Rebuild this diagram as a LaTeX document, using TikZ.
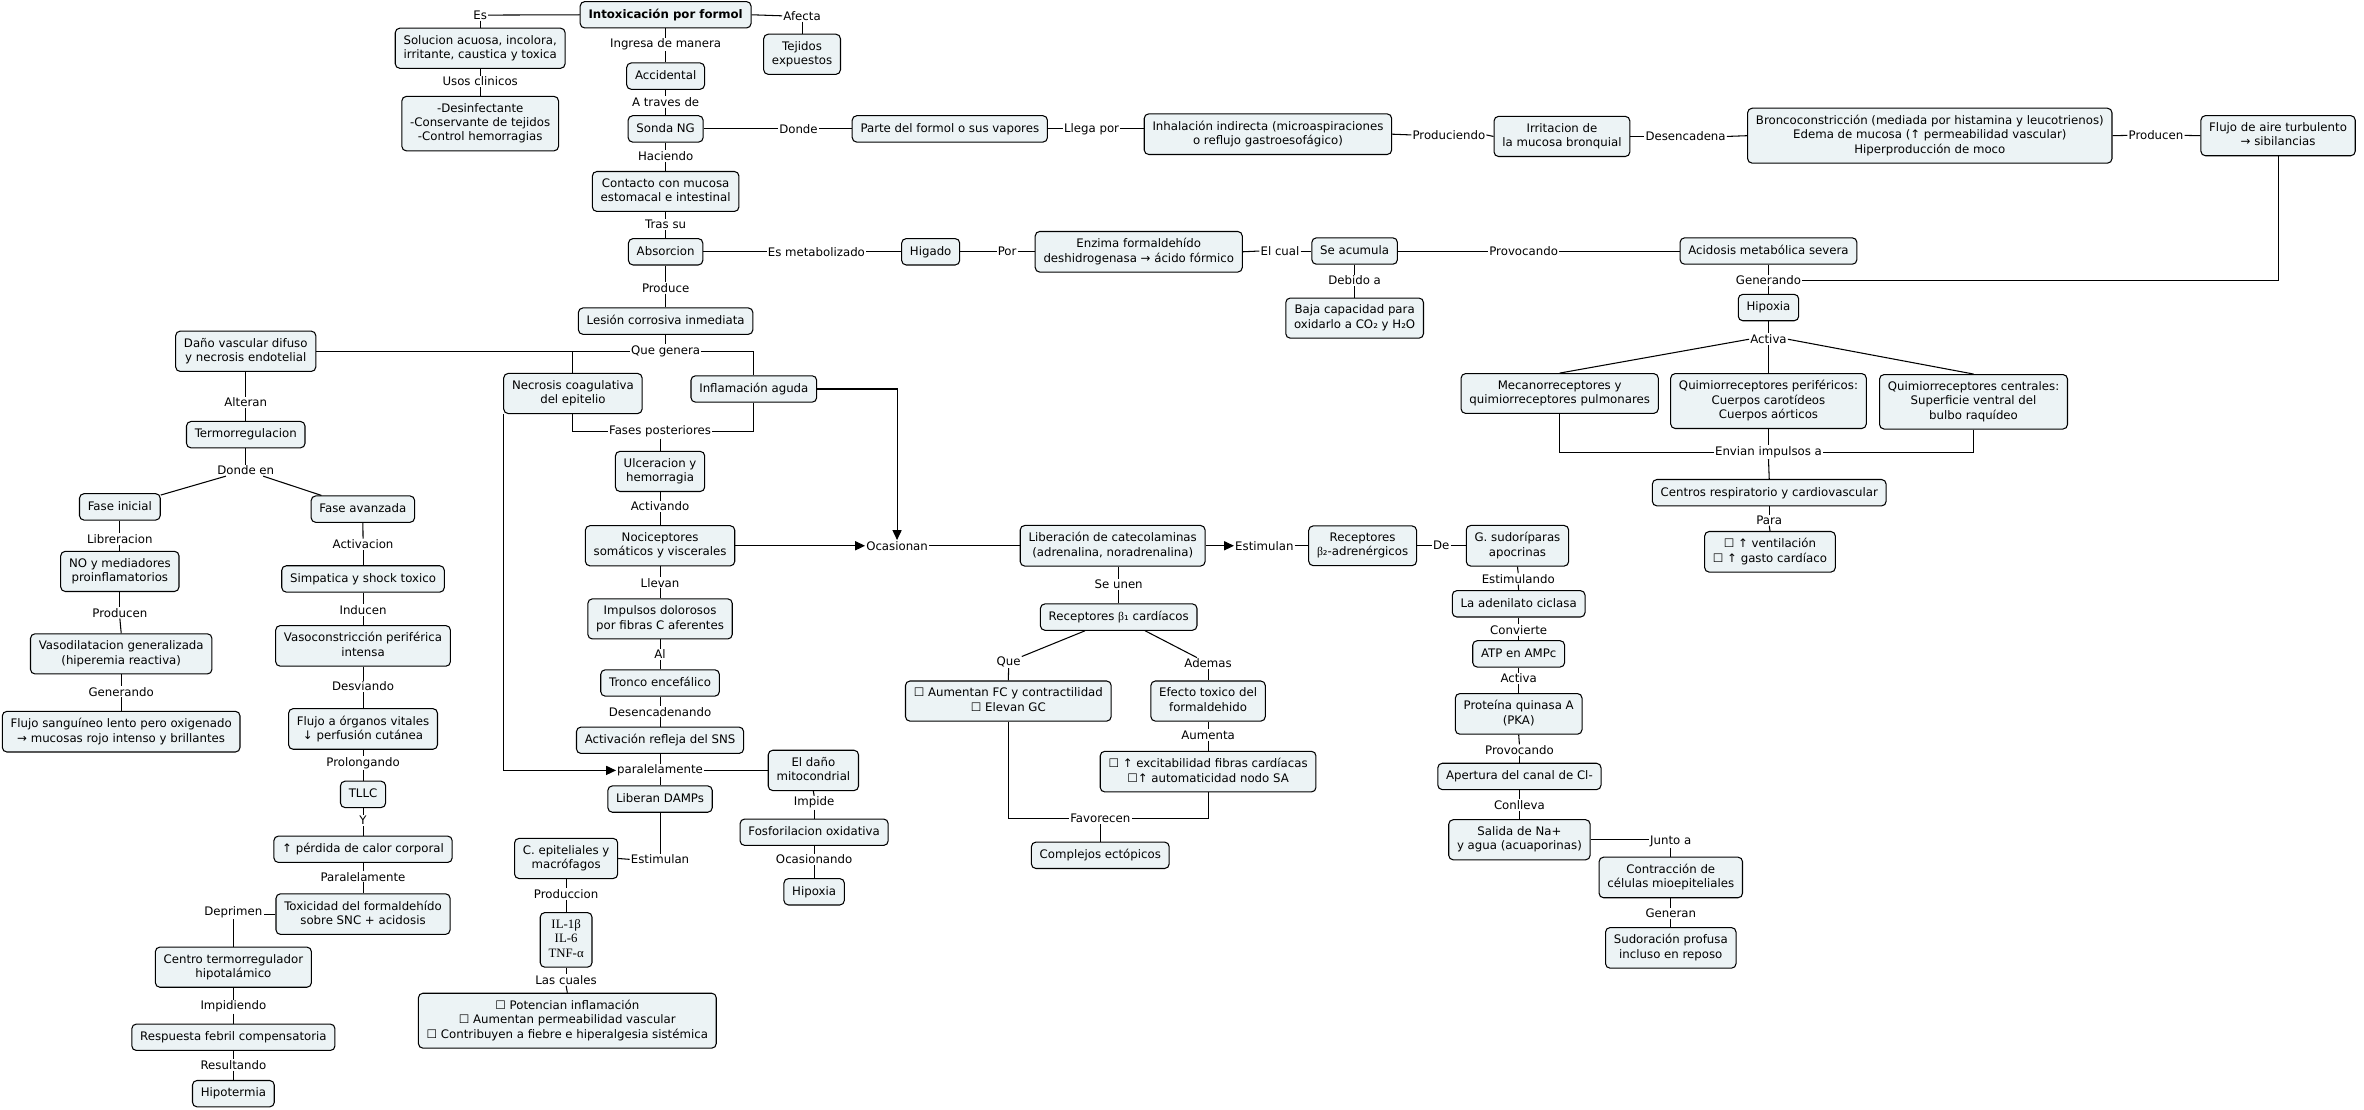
\documentclass[tikz,border=0pt]{standalone}
\usepackage{fontspec}
\setmainfont{DejaVu Sans}
\newfontfamily\serf{Liberation Serif}
\usetikzlibrary{arrows.meta,calc}
\definecolor{boxfill}{RGB}{236,243,245}
\tikzset{
 cbox/.style={draw=black, fill=boxfill, rounded corners=3pt, line width=0.7pt, align=center,
   inner xsep=5.5pt, inner ysep=4.65pt, font=\fontsize{7.8}{9.5}\selectfont,
   execute at begin node={\rule[-1.9pt]{0pt}{8.2pt}},
   execute at end node={\rule[-1.9pt]{0pt}{8.2pt}}},
 lab/.style={inner sep=0.6pt, font=\fontsize{7.8}{9.5}\selectfont, align=center},
 ln/.style={draw=black, line width=0.7pt},
 arr/.style={ln, -{Triangle[length=6.5pt,width=6pt]}},
}
\begin{document}
\begin{tikzpicture}[x=1pt,y=-1pt]
\fill[white] (0,0) rectangle (1568,736.2);
\useasboundingbox (0,0) rectangle (1568,736.2);

% ---------- boxes ----------
\node[cbox, font=\bfseries\fontsize{7.8}{9.5}\selectfont] (title) at (441.5,9.8) {Intoxicación por formol};
\node[cbox] (Sol) at (318.5,32) {Solucion acuosa, incolora,\\irritante, caustica y toxica};
\node[cbox] (Des) at (318.5,82) {-Desinfectante\\-Conservante de tejidos\\-Control hemorragias};
\node[cbox] (Tej) at (532,36) {Tejidos\\expuestos};
\node[cbox] (Acc) at (441.5,50.5) {Accidental};
\node[cbox] (Sonda) at (441.5,85.5) {Sonda NG};
\node[cbox] (Parte) at (630,85.5) {Parte del formol o sus vapores};
\node[cbox] (Inhal) at (841,89) {Inhalación indirecta (microaspiraciones\\o reflujo gastroesofágico)};
\node[cbox] (Irrit) at (1036,90.5) {Irritacion de\\la mucosa bronquial};
\node[cbox] (Bronco) at (1280,90) {Broncoconstricción (mediada por histamina y leucotrienos)\\Edema de mucosa (↑ permeabilidad vascular)\\Hiperproducción de moco};
\node[cbox] (FlujoAire) at (1511,90) {Flujo de aire turbulento\\→ sibilancias};
\node[cbox] (Contacto) at (441.5,127) {Contacto con mucosa\\estomacal e intestinal};
\node[cbox] (Absor) at (441.5,167) {Absorcion};
\node[cbox] (Higado) at (617.3,167) {Higado};
\node[cbox] (Enzima) at (755.3,167) {Enzima formaldehído\\deshidrogenasa → ácido fórmico};
\node[cbox] (SeAcum) at (898.5,166.5) {Se acumula};
\node[cbox] (Baja) at (898.5,211) {Baja capacidad para\\oxidarlo a CO₂ y H₂O};
\node[cbox] (Acidosis) at (1173,166.5) {Acidosis metabólica severa};
\node[cbox] (HipoxiaR) at (1173,204) {Hipoxia};
\node[cbox] (Mecano) at (1034.5,261) {Mecanorreceptores y\\quimiorreceptores pulmonares};
\node[cbox] (QuimP) at (1173,266) {Quimiorreceptores periféricos:\\Cuerpos carotídeos\\Cuerpos aórticos};
\node[cbox] (QuimC) at (1309,266.5) {Quimiorreceptores centrales:\\Superficie ventral del\\bulbo raquídeo};
\node[cbox] (Centros) at (1173.5,326.8) {Centros respiratorio y cardiovascular};
\node[cbox] (Vent) at (1174,366) {☐ ↑ ventilación\\☐ ↑ gasto cardíaco};

\node[cbox] (Lesion) at (441.5,213) {Lesión corrosiva inmediata};
\node[cbox] (Dano) at (163,233) {Daño vascular difuso\\y necrosis endotelial};
\node[cbox] (Necro) at (380,261) {Necrosis coagulativa\\del epitelio};
\node[cbox] (Inflam) at (500,258) {Inflamación aguda};
\node[cbox] (Termo) at (163,288.3) {Termorregulacion};
\node[cbox] (FaseIni) at (79.5,336.2) {Fase inicial};
\node[cbox] (FaseAv) at (240.7,337.7) {Fase avanzada};
\node[cbox] (NO) at (79.5,379) {NO y mediadores\\proinflamatorios};
\node[cbox] (Vasodil) at (80.4,433.7) {Vasodilatacion generalizada\\(hiperemia reactiva)};
\node[cbox, anchor=west] (FlujoSang) at (1.2,485.3) {Flujo sanguíneo lento pero oxigenado\\→ mucosas rojo intenso y brillantes};
\node[cbox] (Simp) at (240.8,384) {Simpatica y shock toxico};
\node[cbox] (Vasocon) at (240.8,428.4) {Vasoconstricción periférica\\intensa};
\node[cbox] (FlujoOrg) at (240.8,483.5) {Flujo a órganos vitales\\↓ perfusión cutánea};
\node[cbox] (TLLC) at (240.8,526.9) {TLLC};
\node[cbox] (Perdida) at (240.8,563.3) {↑ pérdida de calor corporal};
\node[cbox] (Toxic) at (240.8,606.3) {Toxicidad del formaldehído\\sobre SNC + acidosis};
\node[cbox] (Centro) at (154.8,641.5) {Centro termorregulador\\hipotalámico};
\node[cbox] (Resp) at (154.8,688) {Respuesta febril compensatoria};
\node[cbox] (Hipot) at (154.8,725.4) {Hipotermia};

\node[cbox] (Ulcer) at (437.8,312.7) {Ulceracion y\\hemorragia};
\node[cbox] (Noci) at (437.8,362) {Nociceptores\\somáticos y viscerales};
\node[cbox] (Impulsos) at (437.8,410.5) {Impulsos dolorosos\\por fibras C aferentes};
\node[cbox] (Tronco) at (437.8,453) {Tronco encefálico};
\node[cbox] (ActRef) at (437.8,491) {Activación refleja del SNS};
\node[cbox] (LibD) at (437.8,530) {Liberan DAMPs};
\node[cbox] (ElDano) at (539.5,511) {El daño\\mitocondrial};
\node[cbox] (Fosfo) at (540,552) {Fosforilacion oxidativa};
\node[cbox] (HipoxiaM) at (540,591.5) {Hipoxia};
\node[cbox] (CEpit) at (375.5,569.4) {C. epiteliales y\\macrófagos};
\node[cbox, font=\serf\fontsize{8.5}{9.5}\selectfont] (IL) at (375.5,623.4) {IL-1β\\IL-6\\TNF-α};
\node[cbox] (Potenc) at (376.3,677) {☐ Potencian inflamación\\☐ Aumentan permeabilidad vascular\\☐ Contribuyen a fiebre e hiperalgesia sistémica};

\node[cbox] (Liber) at (738,362) {Liberación de catecolaminas\\(adrenalina, noradrenalina)};
\node[cbox] (RecB1) at (742,409.3) {Receptores {\serf β}₁ cardíacos};
\node[cbox] (Aument) at (668.8,465) {☐ Aumentan FC y contractilidad\\☐ Elevan GC};
\node[cbox] (Efecto) at (801.3,465) {Efecto toxico del\\formaldehido};
\node[cbox] (Excit) at (801.3,511.8) {☐ ↑ excitabilidad fibras cardíacas\\☐↑ automaticidad nodo SA};
\node[cbox] (Complejos) at (729.8,567.3) {Complejos ectópicos};
\node[cbox] (RecB2) at (903.8,362) {Receptores\\{\serf β}₂-adrenérgicos};
\node[cbox] (GSud) at (1006.5,362) {G. sudoríparas\\apocrinas};
\node[cbox] (Adenil) at (1007.3,400.5) {La adenilato ciclasa};
\node[cbox] (ATP) at (1007.3,433.7) {ATP en AMPc};
\node[cbox] (PKA) at (1007.3,473.5) {Proteína quinasa A\\(PKA)};
\node[cbox] (Apert) at (1007.8,515) {Apertura del canal de Cl-};
\node[cbox] (Salida) at (1007.8,557) {Salida de Na+\\y agua (acuaporinas)};
\node[cbox] (Contrac) at (1108.2,582) {Contracción de\\células mioepiteliales};
\node[cbox] (Sudor) at (1108.2,628.7) {Sudoración profusa\\incluso en reposo};

% ---------- linking labels ----------
\node[lab] (lEs) at (318.5,10) {Es};
\node[lab] (lUsos) at (318.5,54) {Usos clinicos};
\node[lab] (lAfecta) at (532,10.5) {Afecta};
\node[lab] (lIngresa) at (441.5,29.5) {Ingresa de manera};
\node[lab] (lAtraves) at (441.5,67.5) {A traves de};
\node[lab] (lDonde) at (529.6,85.5) {Donde};
\node[lab] (lLlega) at (724,85.5) {Llega por};
\node[lab] (lProduciendo) at (961,89.5) {Produciendo};
\node[lab] (lDesenc) at (1118,90.5) {Desencadena};
\node[lab] (lProducen) at (1430,89.8) {Producen};
\node[lab] (lHaciendo) at (441.5,103.5) {Haciendo};
\node[lab] (lTras) at (441.5,149) {Tras su};
\node[lab] (lEsMet) at (541.5,167) {Es metabolizado};
\node[lab] (lPor) at (668,167) {Por};
\node[lab] (lElcual) at (849,166.5) {El cual};
\node[lab] (lDebido) at (898.5,186) {Debido a};
\node[lab] (lProvocando) at (1010.6,166.5) {Provocando};
\node[lab] (lGenerando) at (1173,186) {Generando};
\node[lab] (lActiva) at (1173,225) {Activa};
\node[lab] (lEnvian) at (1173,300) {Envian impulsos a};
\node[lab] (lPara) at (1173.5,345) {Para};
\node[lab] (lProduce) at (441.5,191) {Produce};
\node[lab] (lQue) at (441.5,233) {Que genera};
\node[lab] (lAlteran) at (163,267) {Alteran};
\node[lab] (lDondeEn) at (163,312) {Donde en};
\node[lab] (lLibrer) at (79.5,357.5) {Libreracion};
\node[lab] (lProducen2) at (79.5,406.4) {Producen};
\node[lab] (lGenerando2) at (80.4,458.8) {Generando};
\node[lab] (lActivacion) at (240.8,361) {Activacion};
\node[lab] (lInducen) at (240.8,404.6) {Inducen};
\node[lab] (lDesviando) at (240.8,455.4) {Desviando};
\node[lab] (lProlong) at (240.8,506) {Prolongando};
\node[lab] (lY) at (240.8,544.3) {Y};
\node[lab] (lParalelamente) at (240.8,581.5) {Paralelamente};
\node[lab] (lDeprimen) at (154.8,605) {Deprimen};
\node[lab] (lImpidiendo) at (154.8,667.7) {Impidiendo};
\node[lab] (lResultando) at (154.8,706.4) {Resultando};
\node[lab] (lFases) at (437.8,286.3) {Fases posteriores};
\node[lab] (lActivando) at (437.8,336) {Activando};
\node[lab] (lOcas) at (595,362) {Ocasionan};
\node[lab] (lLlevan) at (437.8,386.5) {Llevan};
\node[lab] (lAl) at (437.8,434) {Al};
\node[lab] (lDesenc2) at (437.8,472) {Desencadenando};
\node[lab] (lParal) at (437.8,511) {paralelamente};
\node[lab] (lImpide) at (540,532.4) {Impide};
\node[lab] (lOcasionando) at (540,570) {Ocasionando};
\node[lab] (lEstim2) at (437.8,570) {Estimulan};
\node[lab] (lProduccion) at (375.5,593) {Produccion};
\node[lab] (lLasCuales) at (375.5,650) {Las cuales};
\node[lab] (lSeUnen) at (742,387.5) {Se unen};
\node[lab] (lQue2) at (669,439) {Que};
\node[lab] (lAdemas) at (801.3,440) {Ademas};
\node[lab] (lAumenta) at (801.3,487.5) {Aumenta};
\node[lab] (lFavorecen) at (729.8,542.7) {Favorecen};
\node[lab] (lEstim) at (838.6,362) {Estimulan};
\node[lab] (lDe) at (956,362) {De};
\node[lab] (lEstimulando) at (1007,384) {Estimulando};
\node[lab] (lConvierte) at (1007.3,418) {Convierte};
\node[lab] (lActiva2) at (1007.3,450) {Activa};
\node[lab] (lProvocando2) at (1007.8,497.5) {Provocando};
\node[lab] (lConlleva) at (1007.8,534) {Conlleva};
\node[lab] (lJunto) at (1108.2,558) {Junto a};
\node[lab] (lGeneran) at (1108.2,605.7) {Generan};

% ---------- connectors ----------
\draw[ln] (title.west) -- (lEs.east);
\draw[ln] (lEs.south) -- (Sol.north);
\draw[ln] (Sol.south) -- (lUsos.north);
\draw[ln] (lUsos.south) -- (Des.north);
\draw[ln] (title.east) -- (lAfecta.west);
\draw[ln] (lAfecta.south) -- (Tej.north);
\draw[ln] (title.south) -- (lIngresa.north);
\draw[ln] (lIngresa.south) -- (Acc.north);
\draw[ln] (Acc.south) -- (lAtraves.north);
\draw[ln] (lAtraves.south) -- (Sonda.north);
\draw[ln] (Sonda.east) -- (lDonde.west);
\draw[ln] (lDonde.east) -- (Parte.west);
\draw[ln] (Parte.east) -- (lLlega.west);
\draw[ln] (lLlega.east) -- (lLlega.east -| Inhal.west);
\draw[ln] (Inhal.east) -- (lProduciendo.west);
\draw[ln] (lProduciendo.east) -- (Irrit.west);
\draw[ln] (Irrit.east) -- (lDesenc.west);
\draw[ln] (lDesenc.east) -- (Bronco.west);
\draw[ln] (Bronco.east) -- (lProducen.west);
\draw[ln] (lProducen.east) -- (FlujoAire.west);
\draw[ln] (FlujoAire.south) |- (lGenerando.east);
\draw[ln] (Sonda.south) -- (lHaciendo.north);
\draw[ln] (lHaciendo.south) -- (Contacto.north);
\draw[ln] (Contacto.south) -- (lTras.north);
\draw[ln] (lTras.south) -- (Absor.north);
\draw[ln] (Absor.east) -- (lEsMet.west);
\draw[ln] (lEsMet.east) -- (Higado.west);
\draw[ln] (Higado.east) -- (lPor.west);
\draw[ln] (lPor.east) -- (Enzima.west);
\draw[ln] (Enzima.east) -- (lElcual.west);
\draw[ln] (lElcual.east) -- (SeAcum.west);
\draw[ln] (SeAcum.south) -- (lDebido.north);
\draw[ln] (lDebido.south) -- (Baja.north);
\draw[ln] (SeAcum.east) -- (lProvocando.west);
\draw[ln] (lProvocando.east) -- (Acidosis.west);
\draw[ln] (Acidosis.south) -- (lGenerando.north);
\draw[ln] (lGenerando.south) -- (HipoxiaR.north);
\draw[ln] (HipoxiaR.south) -- (lActiva.north);
\draw[ln] (lActiva.west) -- (Mecano.north);
\draw[ln] (lActiva.south) -- (QuimP.north);
\draw[ln] (lActiva.east) -- (QuimC.north);
\draw[ln] (Mecano.south) |- (lEnvian.west);
\draw[ln] (QuimP.south) -- (lEnvian.north);
\draw[ln] (QuimC.south) |- (lEnvian.east);
\draw[ln] (lEnvian.south) -- (Centros.north);
\draw[ln] (Centros.south) -- (lPara.north);
\draw[ln] (lPara.south) -- (Vent.north);

\draw[ln] (Absor.south) -- (lProduce.north);
\draw[ln] (lProduce.south) -- (Lesion.north);
\draw[ln] (Lesion.south) -- (lQue.north);
\draw[ln] (lQue.west) -- (Dano.east);
\draw[ln] (Necro.north) |- (lQue.west);
\draw[ln] (lQue.east) -| (Inflam.north);
\draw[ln] (Dano.south) -- (lAlteran.north);
\draw[ln] (lAlteran.south) -- (Termo.north);
\draw[ln] (Termo.south) -- (lDondeEn.north);
\draw[ln] (lDondeEn) -- (FaseIni);
\draw[ln] (lDondeEn) -- (FaseAv);
\draw[ln] (FaseIni.south) -- (lLibrer.north);
\draw[ln] (lLibrer.south) -- (NO.north);
\draw[ln] (NO.south) -- (lProducen2.north);
\draw[ln] (lProducen2.south) -- (Vasodil.north);
\draw[ln] (Vasodil.south) -- (lGenerando2.north);
\draw[ln] (lGenerando2.south) -- (lGenerando2.south |- FlujoSang.north);
\draw[ln] (FaseAv.south) -- (lActivacion.north);
\draw[ln] (lActivacion.south) -- (Simp.north);
\draw[ln] (Simp.south) -- (lInducen.north);
\draw[ln] (lInducen.south) -- (Vasocon.north);
\draw[ln] (Vasocon.south) -- (lDesviando.north);
\draw[ln] (lDesviando.south) -- (FlujoOrg.north);
\draw[ln] (FlujoOrg.south) -- (lProlong.north);
\draw[ln] (lProlong.south) -- (TLLC.north);
\draw[ln] (TLLC.south) -- (lY.north);
\draw[ln] (lY.south) -- (Perdida.north);
\draw[ln] (Perdida.south) -- (lParalelamente.north);
\draw[ln] (lParalelamente.south) -- (Toxic.north);
\draw[ln] (Toxic.west) -- (Toxic.west -| lDeprimen.east);
\draw[ln] (lDeprimen.south) -- (Centro.north);
\draw[ln] (Centro.south) -- (lImpidiendo.north);
\draw[ln] (lImpidiendo.south) -- (Resp.north);
\draw[ln] (Resp.south) -- (lResultando.north);
\draw[ln] (lResultando.south) -- (Hipot.north);

\draw[ln] (Necro.south) |- (lFases.west);
\draw[ln] (Inflam.south) |- (lFases.east);
\draw[ln] (lFases.south) -- (Ulcer.north);
\draw[ln] (Ulcer.south) -- (lActivando.north);
\draw[ln] (lActivando.south) -- (Noci.north);
\draw[arr] (Noci.east) -- (lOcas.west);
\draw[arr] (Inflam.east) -| (lOcas.north);
\draw[ln] (lOcas.east) -- (Liber.west);
\draw[ln] (Noci.south) -- (lLlevan.north);
\draw[ln] (lLlevan.south) -- (Impulsos.north);
\draw[ln] (Impulsos.south) -- (lAl.north);
\draw[ln] (lAl.south) -- (Tronco.north);
\draw[ln] (Tronco.south) -- (lDesenc2.north);
\draw[ln] (lDesenc2.south) -- (ActRef.north);
\draw[ln] (ActRef.south) -- (lParal.north);
\draw[ln] (lParal.south) -- (LibD.north);
\draw[arr] (Necro.south west) |- (lParal.west);
\draw[ln] (lParal.east) -- (ElDano.west);
\draw[ln] (ElDano.south) -- (lImpide.north);
\draw[ln] (lImpide.south) -- (Fosfo.north);
\draw[ln] (Fosfo.south) -- (lOcasionando.north);
\draw[ln] (lOcasionando.south) -- (HipoxiaM.north);
\draw[ln] (LibD.south) -- (lEstim2.north);
\draw[ln] (lEstim2.west) -- (CEpit.east);
\draw[ln] (CEpit.south) -- (lProduccion.north);
\draw[ln] (lProduccion.south) -- (IL.north);
\draw[ln] (IL.south) -- (lLasCuales.north);
\draw[ln] (lLasCuales.south) -- (Potenc.north);

\draw[arr] (Liber.east) -- (lEstim.west);
\draw[ln] (lEstim.east) -- (RecB2.west);
\draw[ln] (RecB2.east) -- (lDe.west);
\draw[ln] (lDe.east) -- (GSud.west);
\draw[ln] (GSud.south) -- (lEstimulando.north);
\draw[ln] (lEstimulando.south) -- (Adenil.north);
\draw[ln] (Adenil.south) -- (lConvierte.north);
\draw[ln] (lConvierte.south) -- (ATP.north);
\draw[ln] (ATP.south) -- (lActiva2.north);
\draw[ln] (lActiva2.south) -- (PKA.north);
\draw[ln] (PKA.south) -- (lProvocando2.north);
\draw[ln] (lProvocando2.south) -- (Apert.north);
\draw[ln] (Apert.south) -- (lConlleva.north);
\draw[ln] (lConlleva.south) -- (Salida.north);
\draw[ln] (Salida.east) -- (Salida.east -| lJunto.west);
\draw[ln] (lJunto.south) -- (Contrac.north);
\draw[ln] (Contrac.south) -- (lGeneran.north);
\draw[ln] (lGeneran.south) -- (Sudor.north);
\draw[ln] (lSeUnen.north) -- (lSeUnen.north |- Liber.south);
\draw[ln] (lSeUnen.south) -- (RecB1.north);
\draw[ln] (RecB1) -- (lQue2);
\draw[ln] (lQue2.south) -- (Aument.north);
\draw[ln] (RecB1) -- (lAdemas);
\draw[ln] (lAdemas.south) -- (Efecto.north);
\draw[ln] (Efecto.south) -- (lAumenta.north);
\draw[ln] (lAumenta.south) -- (Excit.north);
\draw[ln] (Aument.south) |- (lFavorecen.west);
\draw[ln] (Excit.south) |- (lFavorecen.east);
\draw[ln] (lFavorecen.south) -- (Complejos.north);
\end{tikzpicture}
\end{document}
